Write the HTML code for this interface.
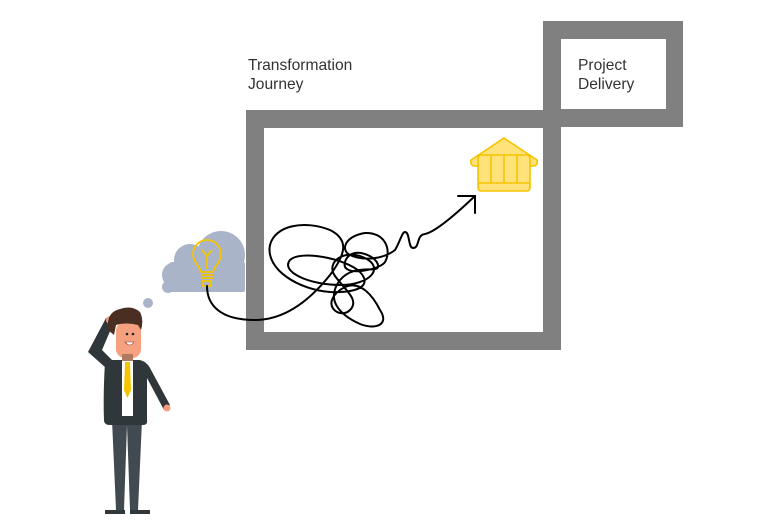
<!DOCTYPE html>
<html><head><style>
html,body{margin:0;padding:0;background:#fff;}
svg{display:block;}
text{font-family:"Liberation Sans",sans-serif;font-size:15.6px;fill:#333;}
</style></head><body>
<svg width="768" height="525" viewBox="0 0 768 525" xmlns="http://www.w3.org/2000/svg">
<rect width="768" height="525" fill="#fff"/>
<path d="M246,110H683V127H561V350H246Z M264,128V332H543V128Z" fill="#808080" fill-rule="evenodd"/>
<path d="M543,21H683V127H543Z M561,39V109H666V39Z" fill="#808080" fill-rule="evenodd"/>
<text x="248" y="70">Transformation</text>
<text x="248" y="89">Journey</text>
<text x="578" y="70">Project</text>
<text x="578" y="89">Delivery</text>
<g fill="#aab4c8">
<circle cx="148" cy="303" r="5"/>
<circle cx="221" cy="255" r="24"/>
<circle cx="190" cy="260" r="16"/>
<circle cx="175" cy="275" r="13"/>
<circle cx="168" cy="287" r="6"/>
<circle cx="230" cy="274" r="15"/>
<rect x="170" y="262" width="75" height="30" rx="2"/>
</g>
<g fill="none" stroke="#f5c400" stroke-width="1.8">
<path d="M201,272 C199,265 193,262 193,254 A14,14 0 1 1 221,254 C221,262 215,265 213,272 Z"/>
<path d="M201,275H213M201,278H213M203,281H211V286H203Z"/>
<path d="M207,269V256M207,256L202,250M207,256L212,250"/>
</g>
<g fill="none" stroke="#000" stroke-width="2" stroke-linecap="round">
<path d="M207,286 C207,305 220,320 255,320 C285,320 310,300 330,275 C345,255 350,240 330,230 C305,220 275,225 270,245 C265,270 300,290 330,292 C360,293 372,285 360,272 C345,258 300,250 290,260 C280,272 310,285 340,285 C370,285 385,268 365,258 C345,248 325,262 335,276 C345,290 360,300 350,310 C340,320 320,305 340,290 C360,275 375,300 380,310 C390,325 375,330 360,324 C340,315 325,300 340,280 C355,262 380,275 378,265 C376,255 350,245 345,262 C340,278 380,270 385,262 C392,250 385,232 365,233 C345,236 340,250 350,255 C365,262 385,258 395,250 C400,242 402,232 405,232 C410,232 408,248 413,248 C420,248 416,235 425,234 C435,232 455,215 475,196"/>
<path d="M458,196H475V213"/>
</g>
<g stroke="#f5c400" stroke-width="1.6" fill="#ffe27a">
<path d="M471,160 L504,138 L537,160 Q538,166 533,166 L475,166 Q470,166 471,160Z"/>
<rect x="478" y="155" width="52" height="36" rx="3"/>
<path d="M478,183H530M491,155V183M504,155V183M517,155V183" fill="none"/>
</g>
<g>
<path d="M112,420 L116,510 H124 L127,425 L130,510 H138 L142,420Z" fill="#404a50"/>
<path d="M105,510H125V514H105Z M130,510H150V514H130Z" fill="#30383c"/>
<path d="M106,368 L88,352 L106,318 L114,322 L102,350 L112,360Z" fill="#30373a"/>
<path d="M105,362 Q103,395 104,420 Q104,425 110,425 H143 Q148,425 147,420 L147,378 L164,410 L170,405 L150,368 Q147,362 140,360 H112 Q106,360 105,362Z" fill="#30373a"/>
<rect x="122" y="360" width="11" height="56" fill="#fff"/>
<path d="M125,362H130L131,390L127.5,398L124,390Z" fill="#f5c400"/>
<circle cx="167" cy="408" r="3.5" fill="#f39b7a"/>
<circle cx="110" cy="320" r="4" fill="#f39b7a"/>
<rect x="116" y="322" width="25" height="36" rx="9" fill="#f5a07e"/>
<rect x="122" y="354" width="11" height="7" fill="#b07a60"/>
<path d="M108,330 Q106,312 120,309 Q132,305 140,312 Q144,320 141,330 L138,325 Q125,322 116,325 L114,335Z" fill="#4a2e22"/>
<circle cx="127" cy="334" r="1.3" fill="#222"/><circle cx="133" cy="334" r="1.3" fill="#222"/>
<path d="M125,342 Q130,348 134,342Z" fill="#fff" stroke="#8a3a2a" stroke-width="0.6"/>
</g>
</svg>
</body></html>
